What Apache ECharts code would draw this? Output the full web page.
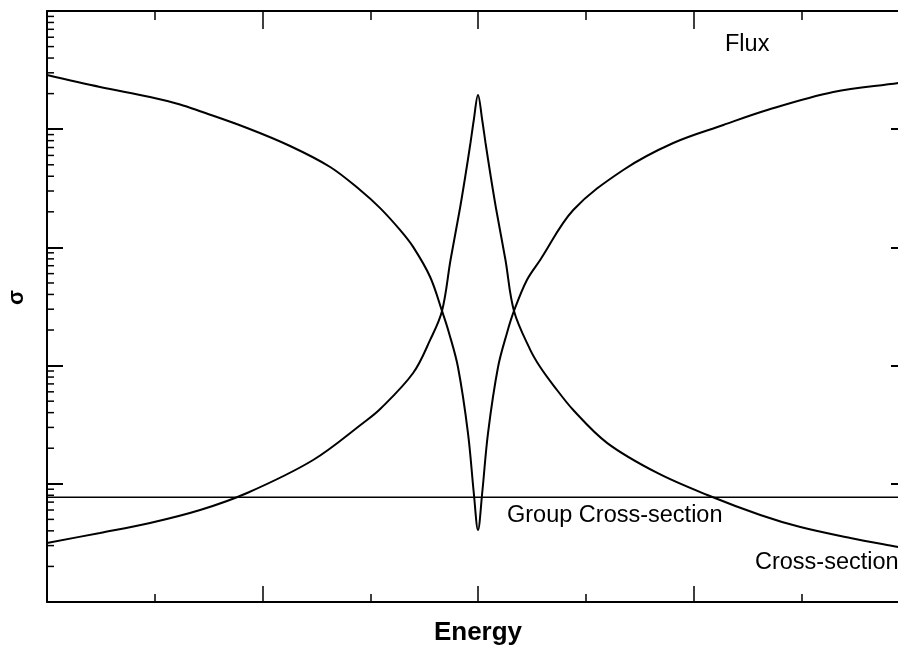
<!DOCTYPE html>
<html>
<head>
<meta charset="utf-8">
<script src="https://cdn.jsdelivr.net/npm/echarts@6/dist/echarts.min.js"></script>
<style>
html,body{margin:0;padding:0;background:#fff;overflow:hidden;width:898px;height:651px;}
#chart{width:909px;height:651px;}
</style>
</head>
<body>
<div id="chart"></div>
<script>
// Energy positions (axis units 0..8) and values
const fluxEnergy = [0, 0.492, 0.956, 1.235, 1.421, 1.857, 2.256, 2.628, 2.906, 3.092, 3.278, 3.398, 3.556, 3.666, 3.731, 3.814, 3.907, 3.961, 4.0, 4.039, 4.093, 4.186, 4.269, 4.334, 4.454, 4.577, 4.884, 5.348, 5.812, 6.277, 6.685, 7.298, 7.902, 8.0];
const fluxValues = [28700, 22750, 18730, 16200, 14200, 10240, 7210, 4790, 3060, 2150, 1400, 1010, 562, 290, 189, 97.3, 26.9, 8.36, 4.07, 8.36, 26.9, 97.3, 189, 290, 530, 782, 2070, 4520, 7640, 10850, 14530, 20640, 24600, 25570];

const csEnergy = [0, 0.492, 0.956, 1.421, 1.857, 2.47, 2.934, 3.092, 3.398, 3.556, 3.666, 3.745, 3.83, 3.881, 3.93, 3.961, 4.0, 4.039, 4.07, 4.119, 4.17, 4.255, 4.334, 4.485, 4.577, 4.698, 4.884, 5.2, 5.664, 6.128, 6.62, 6.992, 7.456, 7.902, 8.0];
const csValues = [3.16, 3.84, 4.66, 6.0, 8.36, 15.9, 32.7, 42.9, 86.6, 165, 290, 782, 2070, 3940, 7640, 11960, 19470, 11960, 7640, 3940, 2070, 782, 290, 136, 97.3, 68.5, 42.1, 22.1, 12.35, 8.04, 5.45, 4.31, 3.48, 2.92, 2.81];

const groupEnergy = [0, 8];
const groupValues = [7.7, 7.7];

// minor log ticks: mantissas within each decade
const minorMantissas = [2, 3, 4, 5, 6, 7, 8, 9];
const decades = [1, 10, 100, 1000, 10000];

const labels = { flux: 'Flux', group: 'Group Cross-section', cs: 'Cross-section', xName: 'Energy', yName: 'σ' };

const pair = (xs, ys) => xs.map((x, i) => [x, ys[i]]);
const minorTickData = [];
decades.forEach(d => minorMantissas.forEach(m => minorTickData.push([0, m * d])));

const chart = echarts.init(document.getElementById('chart'), null, { renderer: 'canvas' });
const FONT = '"Liberation Sans", Arial, sans-serif';
const lineBlack = { color: '#000', width: 2 };

const xBase = { type: 'value', min: 0, max: 8, gridIndex: 0, splitLine: { show: false }, axisLabel: { show: false } };
const yBase = { type: 'log', logBase: 10, min: 1, max: 100000, splitNumber: 5, splitLine: { show: false }, axisLabel: { show: false } };

chart.setOption({
  animation: false,
  backgroundColor: '#fff',
  grid: { left: 47, right: 0, top: 11, bottom: 49, containLabel: false },
  xAxis: [
    Object.assign({}, xBase, { position: 'bottom', interval: 1, axisLine: { show: true, onZero: false, lineStyle: lineBlack },
      axisTick: { show: true, inside: true, length: 8, lineStyle: { color: '#000', width: 1.5 } },
      name: labels.xName, nameLocation: 'middle', nameGap: 18,
      nameTextStyle: { fontFamily: FONT, fontSize: 26, fontWeight: 'bold', color: '#000' } }),
    Object.assign({}, xBase, { position: 'bottom', interval: 2, axisLine: { show: false, onZero: false },
      axisTick: { show: true, inside: true, length: 16, lineStyle: { color: '#000', width: 1.5 } } }),
    Object.assign({}, xBase, { position: 'top', interval: 1, axisLine: { show: true, onZero: false, lineStyle: lineBlack },
      axisTick: { show: true, inside: true, length: 9, lineStyle: { color: '#000', width: 1.5 } } }),
    Object.assign({}, xBase, { position: 'top', interval: 2, axisLine: { show: false, onZero: false },
      axisTick: { show: true, inside: true, length: 18, lineStyle: { color: '#000', width: 1.5 } } })
  ],
  yAxis: [
    Object.assign({}, yBase, { position: 'left', axisLine: { show: true, onZero: false, lineStyle: lineBlack },
      axisTick: { show: true, inside: true, length: 16, lineStyle: { color: '#000', width: 2 } } }),
    Object.assign({}, yBase, { position: 'right', axisLine: { show: true, onZero: false, lineStyle: lineBlack },
      axisTick: { show: true, inside: true, length: 18, lineStyle: { color: '#000', width: 2 } } })
  ],
  series: [
    { type: 'custom', xAxisIndex: 0, yAxisIndex: 0, silent: true, clip: false,
      data: minorTickData,
      renderItem: function (params, api) {
        const p = api.coord([api.value(0), api.value(1)]);
        return { type: 'line', shape: { x1: p[0], y1: p[1], x2: p[0] + 7, y2: p[1] },
                 style: { stroke: '#000', lineWidth: 1.5 } };
      } },
    { name: labels.flux, type: 'line', xAxisIndex: 0, yAxisIndex: 0, data: pair(fluxEnergy, fluxValues),
      showSymbol: false, smooth: 0.35, lineStyle: { color: '#000', width: 2 } },
    { name: labels.cs, type: 'line', xAxisIndex: 0, yAxisIndex: 0, data: pair(csEnergy, csValues),
      showSymbol: false, smooth: 0.35, lineStyle: { color: '#000', width: 2 } },
    { name: labels.group, type: 'line', xAxisIndex: 0, yAxisIndex: 0, data: pair(groupEnergy, groupValues),
      showSymbol: false, lineStyle: { color: '#000', width: 1.5 } }
  ],
  graphic: [
    { type: 'text', left: 725, top: 33, style: { text: labels.flux, font: '23.5px ' + FONT, fill: '#000' } },
    { type: 'text', left: 507, top: 504, style: { text: labels.group, font: '23.5px ' + FONT, fill: '#000' } },
    { type: 'text', left: 755, top: 551, style: { text: labels.cs, font: '23.5px ' + FONT, fill: '#000' } },
    { type: 'text', x: 16.5, y: 297.5, rotation: Math.PI / 2,
      style: { text: labels.yName, font: 'bold 22px ' + FONT, fill: '#000', textAlign: 'center', textVerticalAlign: 'middle' } }
  ]
});
</script>
</body>
</html>
